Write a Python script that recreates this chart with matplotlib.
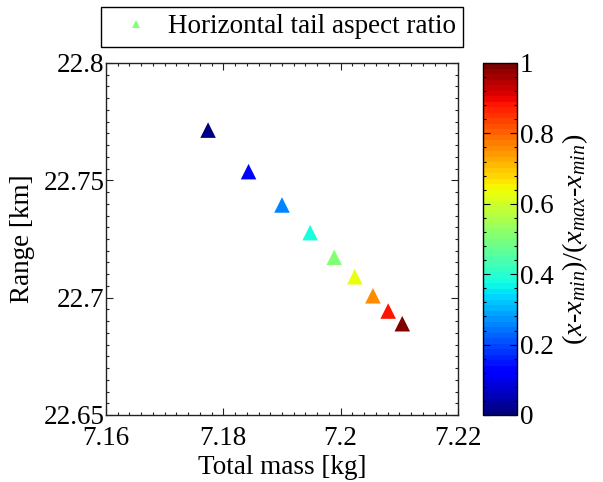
import matplotlib
matplotlib.use("Agg")
import matplotlib.pyplot as plt
from matplotlib.ticker import MultipleLocator, FixedLocator
from matplotlib.lines import Line2D

total_mass = [7.1774, 7.1843, 7.1900, 7.1948, 7.1989, 7.2024, 7.2055, 7.2081, 7.2105]
range_km = [22.7714, 22.7537, 22.7395, 22.7277, 22.7172, 22.7089, 22.7008, 22.6943, 22.6889]
norm_value = [0.0, 0.125, 0.25, 0.375, 0.5, 0.625, 0.75, 0.875, 1.0]
x_ticks = [7.16, 7.18, 7.20, 7.22]
x_ticklabels = ["7.16", "7.18", "7.2", "7.22"]
y_ticks = [22.65, 22.70, 22.75, 22.80]
y_ticklabels = ["22.65", "22.7", "22.75", "22.8"]
cb_ticks = [0, 0.2, 0.4, 0.6, 0.8, 1.0]
cb_ticklabels = ["0", "0.2", "0.4", "0.6", "0.8", "1"]
legend_label = "Horizontal tail aspect ratio"

plt.rcParams['font.family'] = ['Liberation Serif', 'DejaVu Serif']
plt.rcParams['mathtext.fontset'] = 'custom'
plt.rcParams['mathtext.rm'] = 'Liberation Serif'
plt.rcParams['mathtext.it'] = 'Liberation Serif:italic'
FS = 19.5

W, H = 603, 482
fig = plt.figure(figsize=(W / 100, H / 100), dpi=100)

def px_rect(l, t, r, b):
    return [l / W, 1 - b / H, (r - l) / W, (b - t) / H]

ax = fig.add_axes(px_rect(106, 63, 458, 415))
cmap = plt.get_cmap('jet', 64)
sc = ax.scatter(total_mass, range_km, c=norm_value, cmap=cmap, vmin=0, vmax=1,
                marker='^', s=125, linewidths=0)
ax.set_xlim(7.16, 7.22)
ax.set_ylim(22.65, 22.80)
ax.xaxis.set_major_locator(FixedLocator(x_ticks))
ax.set_xticklabels(x_ticklabels)
ax.yaxis.set_major_locator(FixedLocator(y_ticks))
ax.set_yticklabels(y_ticklabels)
ax.xaxis.set_minor_locator(MultipleLocator(0.002))
ax.yaxis.set_minor_locator(MultipleLocator(0.005))
ax.tick_params(which='both', direction='in', top=True, right=True, labelsize=FS, width=0.8, color='#222222')
ax.tick_params(which='major', length=5)
ax.tick_params(which='minor', length=2.5)
ax.tick_params(axis='x', which='major', pad=8)
ax.tick_params(axis='y', which='major', pad=1)
for sp in ax.spines.values():
    sp.set_linewidth(1.0)
    sp.set_color('#222222')
ax.set_xlabel("Total mass [kg]", fontsize=FS, labelpad=3)
ax.set_ylabel("Range [km]", fontsize=FS, labelpad=6)

cax = fig.add_axes(px_rect(483, 63, 517, 415))
cb = fig.colorbar(sc, cax=cax)
cb.set_ticks(cb_ticks)
cb.set_ticklabels(cb_ticklabels)
cb.ax.yaxis.set_minor_locator(MultipleLocator(0.04))
cb.ax.tick_params(which='both', direction='in', labelsize=FS, width=0.8, left=True, right=True, pad=2)
cb.ax.tick_params(which='major', length=5)
cb.ax.tick_params(which='minor', length=2.5)
cb.outline.set_linewidth(1.0)
cb.set_label(r'$(\mathit{x}$-$\mathit{x}_{\mathit{min}})/(\mathit{x}_{\mathit{max}}$-$\mathit{x}_{\mathit{min}})$',
             fontsize=20.5, labelpad=5)

handle = Line2D([], [], linestyle='none', marker='^', markersize=6,
                markerfacecolor=cmap(0.5), markeredgewidth=0)
leg = fig.legend([handle], [legend_label], loc='upper left',
                 bbox_to_anchor=(101 / W, 1 - 7 / H), fontsize=FS,
                 frameon=True, fancybox=False, edgecolor='black', framealpha=1,
                 borderpad=0.27, handlelength=2.05, handletextpad=0.16,
                 borderaxespad=0)
leg.get_frame().set_linewidth(1.0)

fig.savefig("out.png", dpi=100)
